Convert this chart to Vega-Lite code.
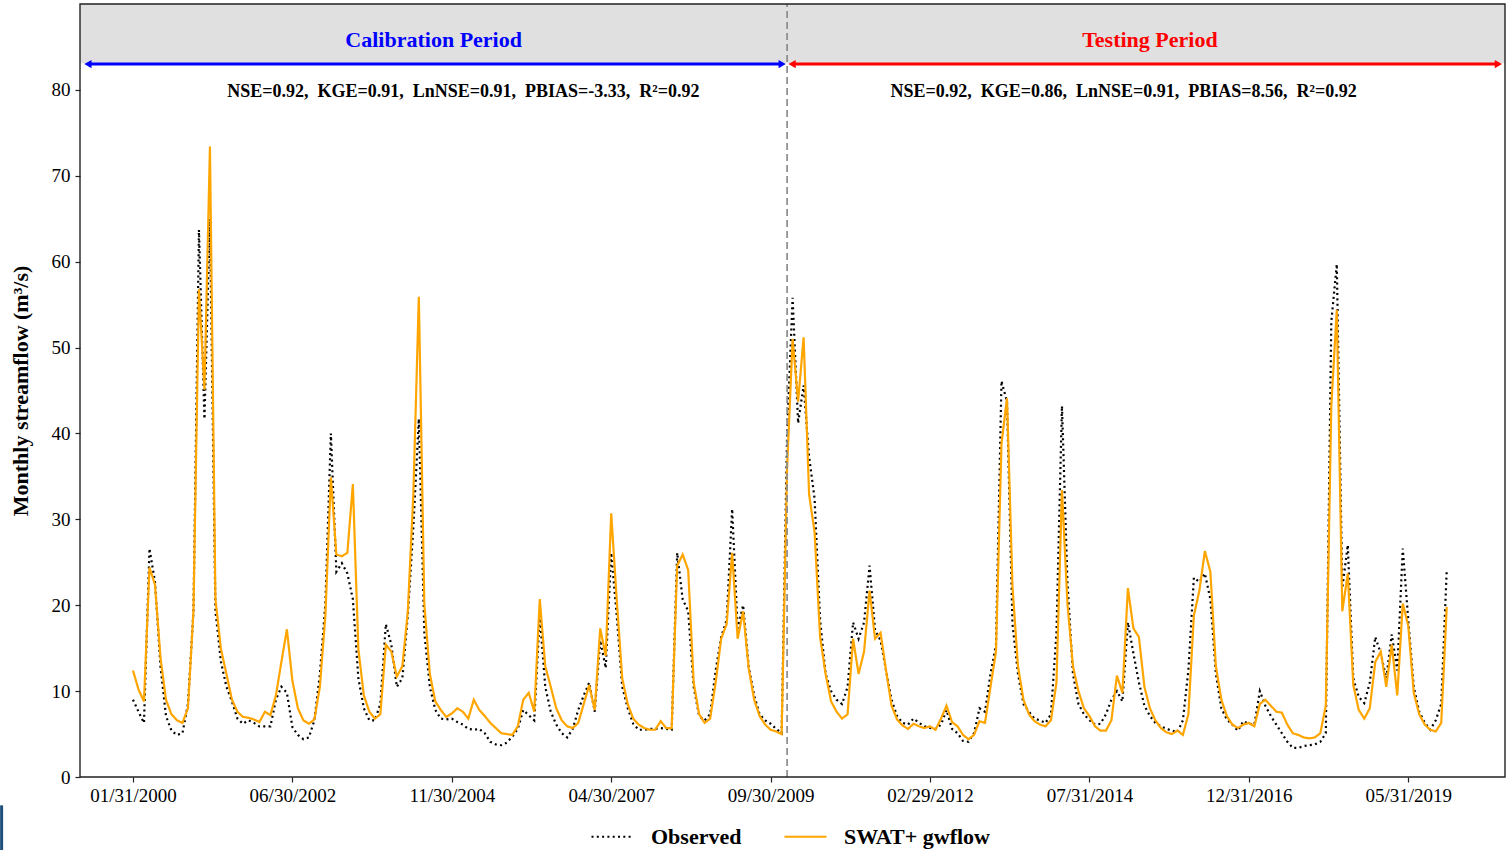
{
  "$schema": "https://vega.github.io/schema/vega-lite/v6.json",
  "width": 1425,
  "height": 773,
  "autosize": {"type": "none"},
  "padding": {"left": 80, "top": 4, "right": 2, "bottom": 73},
  "background": "white",
  "config": {"view": {"stroke": null}, "font": "Liberation Serif"},
  "layer": [
    {
      "data": {"values": [
        {"month":0,"Observed":9.0,"SWAT+ gwflow":12.4},{"month":1,"Observed":7.6,"SWAT+ gwflow":10.2},{"month":2,"Observed":6.3,"SWAT+ gwflow":8.8},{"month":3,"Observed":26.6,"SWAT+ gwflow":24.4},{"month":4,"Observed":22.7,"SWAT+ gwflow":22.4},{"month":5,"Observed":12.9,"SWAT+ gwflow":13.9},{"month":6,"Observed":7.1,"SWAT+ gwflow":9.0},{"month":7,"Observed":5.4,"SWAT+ gwflow":7.3},{"month":8,"Observed":4.9,"SWAT+ gwflow":6.6},{"month":9,"Observed":5.1,"SWAT+ gwflow":6.3},
        {"month":10,"Observed":8.5,"SWAT+ gwflow":8.0},{"month":11,"Observed":19.3,"SWAT+ gwflow":19.3},{"month":12,"Observed":63.7,"SWAT+ gwflow":56.8},{"month":13,"Observed":41.7,"SWAT+ gwflow":45.1},{"month":14,"Observed":65.0,"SWAT+ gwflow":73.4},{"month":15,"Observed":19.3,"SWAT+ gwflow":20.7},{"month":16,"Observed":13.4,"SWAT+ gwflow":14.9},{"month":17,"Observed":10.5,"SWAT+ gwflow":12.0},{"month":18,"Observed":8.8,"SWAT+ gwflow":9.0},{"month":19,"Observed":6.8,"SWAT+ gwflow":7.6},
        {"month":20,"Observed":6.2,"SWAT+ gwflow":7.0},{"month":21,"Observed":6.6,"SWAT+ gwflow":6.9},{"month":22,"Observed":6.3,"SWAT+ gwflow":6.7},{"month":23,"Observed":5.9,"SWAT+ gwflow":6.4},{"month":24,"Observed":5.9,"SWAT+ gwflow":7.6},{"month":25,"Observed":5.9,"SWAT+ gwflow":7.2},{"month":26,"Observed":9.0,"SWAT+ gwflow":9.5},{"month":27,"Observed":10.5,"SWAT+ gwflow":13.4},{"month":28,"Observed":9.8,"SWAT+ gwflow":17.2},{"month":29,"Observed":5.8,"SWAT+ gwflow":11.2},
        {"month":30,"Observed":4.9,"SWAT+ gwflow":8.0},{"month":31,"Observed":4.4,"SWAT+ gwflow":6.6},{"month":32,"Observed":4.6,"SWAT+ gwflow":6.2},{"month":33,"Observed":6.6,"SWAT+ gwflow":6.7},{"month":34,"Observed":12.0,"SWAT+ gwflow":10.5},{"month":35,"Observed":20.2,"SWAT+ gwflow":18.8},{"month":36,"Observed":40.0,"SWAT+ gwflow":34.9},{"month":37,"Observed":23.9,"SWAT+ gwflow":25.9},{"month":38,"Observed":24.9,"SWAT+ gwflow":25.7},{"month":39,"Observed":23.7,"SWAT+ gwflow":26.1},
        {"month":40,"Observed":20.7,"SWAT+ gwflow":34.1},{"month":41,"Observed":11.5,"SWAT+ gwflow":14.9},{"month":42,"Observed":8.0,"SWAT+ gwflow":9.5},{"month":43,"Observed":6.6,"SWAT+ gwflow":7.6},{"month":44,"Observed":6.6,"SWAT+ gwflow":6.8},{"month":45,"Observed":8.5,"SWAT+ gwflow":7.3},{"month":46,"Observed":17.8,"SWAT+ gwflow":15.4},{"month":47,"Observed":15.4,"SWAT+ gwflow":14.6},{"month":48,"Observed":10.5,"SWAT+ gwflow":11.7},{"month":49,"Observed":11.5,"SWAT+ gwflow":12.9},
        {"month":50,"Observed":18.8,"SWAT+ gwflow":19.3},{"month":51,"Observed":29.0,"SWAT+ gwflow":32.9},{"month":52,"Observed":41.7,"SWAT+ gwflow":55.9},{"month":53,"Observed":16.8,"SWAT+ gwflow":20.2},{"month":54,"Observed":10.5,"SWAT+ gwflow":12.0},{"month":55,"Observed":7.8,"SWAT+ gwflow":8.8},{"month":56,"Observed":6.8,"SWAT+ gwflow":7.8},{"month":57,"Observed":6.7,"SWAT+ gwflow":7.0},{"month":58,"Observed":6.8,"SWAT+ gwflow":7.4},{"month":59,"Observed":6.4,"SWAT+ gwflow":8.0},
        {"month":60,"Observed":6.1,"SWAT+ gwflow":7.6},{"month":61,"Observed":5.6,"SWAT+ gwflow":6.8},{"month":62,"Observed":5.5,"SWAT+ gwflow":9.0},{"month":63,"Observed":5.6,"SWAT+ gwflow":7.8},{"month":64,"Observed":5.1,"SWAT+ gwflow":7.1},{"month":65,"Observed":4.1,"SWAT+ gwflow":6.3},{"month":66,"Observed":3.8,"SWAT+ gwflow":5.7},{"month":67,"Observed":3.7,"SWAT+ gwflow":5.1},{"month":68,"Observed":4.0,"SWAT+ gwflow":5.0},{"month":69,"Observed":4.7,"SWAT+ gwflow":4.9},
        {"month":70,"Observed":5.6,"SWAT+ gwflow":5.9},{"month":71,"Observed":7.8,"SWAT+ gwflow":9.0},{"month":72,"Observed":7.2,"SWAT+ gwflow":9.8},{"month":73,"Observed":6.6,"SWAT+ gwflow":7.6},{"month":74,"Observed":18.8,"SWAT+ gwflow":20.7},{"month":75,"Observed":10.5,"SWAT+ gwflow":12.9},{"month":76,"Observed":7.6,"SWAT+ gwflow":10.5},{"month":77,"Observed":6.1,"SWAT+ gwflow":8.0},{"month":78,"Observed":5.1,"SWAT+ gwflow":6.6},{"month":79,"Observed":4.6,"SWAT+ gwflow":5.9},
        {"month":80,"Observed":5.6,"SWAT+ gwflow":5.7},{"month":81,"Observed":7.8,"SWAT+ gwflow":6.3},{"month":82,"Observed":9.5,"SWAT+ gwflow":8.5},{"month":83,"Observed":11.0,"SWAT+ gwflow":10.7},{"month":84,"Observed":7.6,"SWAT+ gwflow":7.8},{"month":85,"Observed":15.9,"SWAT+ gwflow":17.3},{"month":86,"Observed":12.7,"SWAT+ gwflow":14.1},{"month":87,"Observed":26.1,"SWAT+ gwflow":30.7},{"month":88,"Observed":18.8,"SWAT+ gwflow":20.7},{"month":89,"Observed":10.5,"SWAT+ gwflow":11.5},
        {"month":90,"Observed":8.0,"SWAT+ gwflow":8.5},{"month":91,"Observed":6.2,"SWAT+ gwflow":6.8},{"month":92,"Observed":5.5,"SWAT+ gwflow":6.1},{"month":93,"Observed":5.5,"SWAT+ gwflow":5.7},{"month":94,"Observed":5.6,"SWAT+ gwflow":5.5},{"month":95,"Observed":5.6,"SWAT+ gwflow":5.5},{"month":96,"Observed":5.7,"SWAT+ gwflow":6.5},{"month":97,"Observed":5.6,"SWAT+ gwflow":5.7},{"month":98,"Observed":5.5,"SWAT+ gwflow":5.7},{"month":99,"Observed":26.1,"SWAT+ gwflow":24.6},
        {"month":100,"Observed":20.7,"SWAT+ gwflow":25.9},{"month":101,"Observed":19.3,"SWAT+ gwflow":24.1},{"month":102,"Observed":10.5,"SWAT+ gwflow":11.0},{"month":103,"Observed":7.1,"SWAT+ gwflow":7.3},{"month":104,"Observed":6.6,"SWAT+ gwflow":6.3},{"month":105,"Observed":7.3,"SWAT+ gwflow":6.8},{"month":106,"Observed":12.4,"SWAT+ gwflow":11.0},{"month":107,"Observed":16.3,"SWAT+ gwflow":16.1},{"month":108,"Observed":18.3,"SWAT+ gwflow":17.8},{"month":109,"Observed":31.2,"SWAT+ gwflow":26.1},
        {"month":110,"Observed":17.3,"SWAT+ gwflow":16.1},{"month":111,"Observed":20.0,"SWAT+ gwflow":19.3},{"month":112,"Observed":12.9,"SWAT+ gwflow":12.7},{"month":113,"Observed":9.5,"SWAT+ gwflow":9.0},{"month":114,"Observed":7.3,"SWAT+ gwflow":7.1},{"month":115,"Observed":6.6,"SWAT+ gwflow":6.1},{"month":116,"Observed":6.2,"SWAT+ gwflow":5.5},{"month":117,"Observed":5.6,"SWAT+ gwflow":5.3},{"month":118,"Observed":5.1,"SWAT+ gwflow":5.0},{"month":119,"Observed":40.0,"SWAT+ gwflow":36.0},
        {"month":120,"Observed":55.8,"SWAT+ gwflow":51.0},{"month":121,"Observed":41.2,"SWAT+ gwflow":43.7},{"month":122,"Observed":45.6,"SWAT+ gwflow":51.2},{"month":123,"Observed":37.3,"SWAT+ gwflow":32.9},{"month":124,"Observed":32.4,"SWAT+ gwflow":28.5},{"month":125,"Observed":18.3,"SWAT+ gwflow":16.3},{"month":126,"Observed":12.0,"SWAT+ gwflow":12.0},{"month":127,"Observed":10.0,"SWAT+ gwflow":8.8},{"month":128,"Observed":9.0,"SWAT+ gwflow":7.6},{"month":129,"Observed":8.5,"SWAT+ gwflow":6.8},
        {"month":130,"Observed":10.5,"SWAT+ gwflow":7.3},{"month":131,"Observed":18.0,"SWAT+ gwflow":16.1},{"month":132,"Observed":16.1,"SWAT+ gwflow":12.0},{"month":133,"Observed":18.0,"SWAT+ gwflow":14.6},{"month":134,"Observed":24.6,"SWAT+ gwflow":21.7},{"month":135,"Observed":17.1,"SWAT+ gwflow":16.1},{"month":136,"Observed":15.9,"SWAT+ gwflow":16.8},{"month":137,"Observed":12.4,"SWAT+ gwflow":12.4},{"month":138,"Observed":9.0,"SWAT+ gwflow":8.3},{"month":139,"Observed":7.1,"SWAT+ gwflow":6.7},
        {"month":140,"Observed":6.3,"SWAT+ gwflow":6.0},{"month":141,"Observed":6.1,"SWAT+ gwflow":5.6},{"month":142,"Observed":6.8,"SWAT+ gwflow":6.2},{"month":143,"Observed":6.3,"SWAT+ gwflow":5.9},{"month":144,"Observed":5.9,"SWAT+ gwflow":5.7},{"month":145,"Observed":5.7,"SWAT+ gwflow":5.9},{"month":146,"Observed":5.6,"SWAT+ gwflow":5.5},{"month":147,"Observed":6.1,"SWAT+ gwflow":6.8},{"month":148,"Observed":7.8,"SWAT+ gwflow":8.3},{"month":149,"Observed":5.6,"SWAT+ gwflow":6.4},
        {"month":150,"Observed":5.1,"SWAT+ gwflow":5.9},{"month":151,"Observed":4.2,"SWAT+ gwflow":4.9},{"month":152,"Observed":4.1,"SWAT+ gwflow":4.4},{"month":153,"Observed":5.1,"SWAT+ gwflow":4.9},{"month":154,"Observed":8.0,"SWAT+ gwflow":6.5},{"month":155,"Observed":7.6,"SWAT+ gwflow":6.3},{"month":156,"Observed":12.0,"SWAT+ gwflow":10.5},{"month":157,"Observed":15.4,"SWAT+ gwflow":14.6},{"month":158,"Observed":46.1,"SWAT+ gwflow":38.8},{"month":159,"Observed":43.7,"SWAT+ gwflow":44.1},
        {"month":160,"Observed":17.8,"SWAT+ gwflow":22.2},{"month":161,"Observed":12.0,"SWAT+ gwflow":12.9},{"month":162,"Observed":8.5,"SWAT+ gwflow":9.0},{"month":163,"Observed":7.6,"SWAT+ gwflow":7.3},{"month":164,"Observed":6.8,"SWAT+ gwflow":6.5},{"month":165,"Observed":6.6,"SWAT+ gwflow":6.1},{"month":166,"Observed":6.3,"SWAT+ gwflow":5.9},{"month":167,"Observed":7.3,"SWAT+ gwflow":6.6},{"month":168,"Observed":16.8,"SWAT+ gwflow":11.0},{"month":169,"Observed":43.2,"SWAT+ gwflow":33.4},
        {"month":170,"Observed":22.7,"SWAT+ gwflow":20.2},{"month":171,"Observed":12.0,"SWAT+ gwflow":12.9},{"month":172,"Observed":8.5,"SWAT+ gwflow":10.0},{"month":173,"Observed":7.3,"SWAT+ gwflow":8.0},{"month":174,"Observed":6.6,"SWAT+ gwflow":7.1},{"month":175,"Observed":6.1,"SWAT+ gwflow":5.9},{"month":176,"Observed":6.2,"SWAT+ gwflow":5.4},{"month":177,"Observed":7.3,"SWAT+ gwflow":5.4},{"month":178,"Observed":9.0,"SWAT+ gwflow":6.6},{"month":179,"Observed":10.0,"SWAT+ gwflow":11.8},
        {"month":180,"Observed":8.8,"SWAT+ gwflow":9.8},{"month":181,"Observed":18.0,"SWAT+ gwflow":22.0},{"month":182,"Observed":14.4,"SWAT+ gwflow":17.3},{"month":183,"Observed":11.0,"SWAT+ gwflow":16.3},{"month":184,"Observed":8.3,"SWAT+ gwflow":10.5},{"month":185,"Observed":7.1,"SWAT+ gwflow":8.0},{"month":186,"Observed":6.3,"SWAT+ gwflow":6.6},{"month":187,"Observed":5.9,"SWAT+ gwflow":5.7},{"month":188,"Observed":5.6,"SWAT+ gwflow":5.2},{"month":189,"Observed":5.4,"SWAT+ gwflow":5.0},
        {"month":190,"Observed":5.2,"SWAT+ gwflow":5.4},{"month":191,"Observed":6.6,"SWAT+ gwflow":4.9},{"month":192,"Observed":12.4,"SWAT+ gwflow":7.3},{"month":193,"Observed":23.2,"SWAT+ gwflow":18.8},{"month":194,"Observed":22.7,"SWAT+ gwflow":21.7},{"month":195,"Observed":23.7,"SWAT+ gwflow":26.3},{"month":196,"Observed":20.7,"SWAT+ gwflow":23.9},{"month":197,"Observed":12.0,"SWAT+ gwflow":12.9},{"month":198,"Observed":8.0,"SWAT+ gwflow":9.0},{"month":199,"Observed":6.7,"SWAT+ gwflow":7.1},
        {"month":200,"Observed":6.1,"SWAT+ gwflow":6.1},{"month":201,"Observed":5.4,"SWAT+ gwflow":5.7},{"month":202,"Observed":6.5,"SWAT+ gwflow":6.1},{"month":203,"Observed":6.2,"SWAT+ gwflow":6.3},{"month":204,"Observed":6.1,"SWAT+ gwflow":5.9},{"month":205,"Observed":10.0,"SWAT+ gwflow":8.5},{"month":206,"Observed":8.3,"SWAT+ gwflow":9.0},{"month":207,"Observed":7.1,"SWAT+ gwflow":8.3},{"month":208,"Observed":6.1,"SWAT+ gwflow":7.6},{"month":209,"Observed":5.1,"SWAT+ gwflow":7.5},
        {"month":210,"Observed":4.1,"SWAT+ gwflow":6.1},{"month":211,"Observed":3.4,"SWAT+ gwflow":5.1},{"month":212,"Observed":3.4,"SWAT+ gwflow":4.9},{"month":213,"Observed":3.6,"SWAT+ gwflow":4.6},{"month":214,"Observed":3.7,"SWAT+ gwflow":4.5},{"month":215,"Observed":3.8,"SWAT+ gwflow":4.6},{"month":216,"Observed":4.1,"SWAT+ gwflow":5.1},{"month":217,"Observed":5.1,"SWAT+ gwflow":8.3},{"month":218,"Observed":53.0,"SWAT+ gwflow":43.2},{"month":219,"Observed":59.7,"SWAT+ gwflow":54.4},
        {"month":220,"Observed":22.0,"SWAT+ gwflow":19.3},{"month":221,"Observed":27.0,"SWAT+ gwflow":23.7},{"month":222,"Observed":11.5,"SWAT+ gwflow":10.7},{"month":223,"Observed":9.3,"SWAT+ gwflow":7.8},{"month":224,"Observed":8.6,"SWAT+ gwflow":6.8},{"month":225,"Observed":11.0,"SWAT+ gwflow":8.0},{"month":226,"Observed":16.3,"SWAT+ gwflow":13.4},{"month":227,"Observed":14.4,"SWAT+ gwflow":14.6},{"month":228,"Observed":11.5,"SWAT+ gwflow":10.5},{"month":229,"Observed":16.6,"SWAT+ gwflow":15.4},
        {"month":230,"Observed":12.4,"SWAT+ gwflow":9.5},{"month":231,"Observed":26.6,"SWAT+ gwflow":20.2},{"month":232,"Observed":18.3,"SWAT+ gwflow":17.6},{"month":233,"Observed":10.5,"SWAT+ gwflow":9.8},{"month":234,"Observed":7.6,"SWAT+ gwflow":7.3},{"month":235,"Observed":6.3,"SWAT+ gwflow":6.1},{"month":236,"Observed":5.5,"SWAT+ gwflow":5.5},{"month":237,"Observed":6.6,"SWAT+ gwflow":5.3},{"month":238,"Observed":8.5,"SWAT+ gwflow":6.3},{"month":239,"Observed":24.1,"SWAT+ gwflow":19.8}
      ]},
      "transform": [{"fold": ["Observed", "SWAT+ gwflow"], "as": ["series", "flow"]}],
      "mark": {"type": "line", "strokeWidth": 2.2},
      "encoding": {
        "x": {
          "field": "month", "type": "quantitative",
          "scale": {"domain": [-9.64, 249.6], "nice": false, "zero": false},
          "axis": {
            "values": [0, 29, 58, 87, 116, 145, 174, 203, 232],
            "labelExpr": "['01/31/2000','06/30/2002','11/30/2004','04/30/2007','09/30/2009','02/29/2012','07/31/2014','12/31/2016','05/31/2019'][round(datum.value/29)]",
            "title": null, "grid": false, "domain": false,
            "labelFont": "Liberation Serif", "labelFontSize": 19, "labelColor": "#000000",
            "tickColor": "#222222", "tickSize": 5, "tickWidth": 1.2, "labelPadding": 4
          }
        },
        "y": {
          "field": "flow", "type": "quantitative",
          "scale": {"domain": [0, 90], "nice": false},
          "axis": {
            "values": [0, 10, 20, 30, 40, 50, 60, 70, 80],
            "title": "Monthly streamflow (m³/s)", "grid": false, "domain": false,
            "labelFont": "Liberation Serif", "labelFontSize": 19, "labelColor": "#000000",
            "tickColor": "#222222", "tickSize": 5, "tickWidth": 1.2, "labelPadding": 5,
            "titleFont": "Liberation Serif", "titleFontSize": 22, "titleFontWeight": "bold", "titleColor": "#000000", "titlePadding": 19
          }
        },
        "color": {
          "field": "series", "type": "nominal",
          "scale": {"domain": ["Observed", "SWAT+ gwflow"], "range": ["#000000", "#FFA500"]},
          "legend": {
            "title": null, "orient": "none", "legendX": 510, "legendY": 810, "direction": "horizontal",
            "symbolType": "stroke", "symbolSize": 1764, "symbolStrokeWidth": 2.2,
            "labelFont": "Liberation Serif", "labelFontSize": 22, "labelFontWeight": "bold", "labelColor": "#000000",
            "labelOffset": 16, "columnPadding": 38
          }
        },
        "strokeDash": {
          "field": "series", "type": "nominal",
          "scale": {"domain": ["Observed", "SWAT+ gwflow"], "range": [[2, 3.3], [1, 0]]},
          "legend": {
            "title": null, "orient": "none", "legendX": 510, "legendY": 810, "direction": "horizontal",
            "symbolType": "stroke", "symbolSize": 1764, "symbolStrokeWidth": 2.2,
            "labelFont": "Liberation Serif", "labelFontSize": 22, "labelFontWeight": "bold", "labelColor": "#000000",
            "labelOffset": 16, "columnPadding": 38
          }
        }
      }
    },
    {
      "data": {"values": [{}]},
      "mark": {"type": "rect", "color": "#e0e0e0"},
      "encoding": {
        "x": {"datum": -9.64, "type": "quantitative"},
        "x2": {"datum": 249.6},
        "y": {"datum": 83.1, "type": "quantitative"},
        "y2": {"datum": 90}
      }
    },
    {
      "data": {"values": [{}]},
      "mark": {"type": "rule", "color": "#8c8c8c", "strokeDash": [7, 4], "strokeWidth": 1.7},
      "encoding": {
        "x": {"datum": 119, "type": "quantitative"},
        "y": {"datum": 0, "type": "quantitative"},
        "y2": {"datum": 90}
      }
    },
    {
      "data": {"values": [{}]},
      "mark": {"type": "rule", "color": "#0000FF", "strokeWidth": 3},
      "encoding": {"x": {"datum": -8.2, "type": "quantitative"}, "x2": {"datum": 118.1}, "y": {"datum": 83.0, "type": "quantitative"}}
    },
    {
      "data": {"values": [{}]},
      "mark": {"type": "point", "shape": "triangle-left", "filled": true, "color": "#0000FF", "size": 70, "opacity": 1},
      "encoding": {"x": {"datum": -8.2, "type": "quantitative"}, "y": {"datum": 83.0, "type": "quantitative"}}
    },
    {
      "data": {"values": [{}]},
      "mark": {"type": "point", "shape": "triangle-right", "filled": true, "color": "#0000FF", "size": 70, "opacity": 1},
      "encoding": {"x": {"datum": 118.1, "type": "quantitative"}, "y": {"datum": 83.0, "type": "quantitative"}}
    },
    {
      "data": {"values": [{}]},
      "mark": {"type": "rule", "color": "#FF0000", "strokeWidth": 3},
      "encoding": {"x": {"datum": 119.9, "type": "quantitative"}, "x2": {"datum": 248.4}, "y": {"datum": 83.0, "type": "quantitative"}}
    },
    {
      "data": {"values": [{}]},
      "mark": {"type": "point", "shape": "triangle-left", "filled": true, "color": "#FF0000", "size": 70, "opacity": 1},
      "encoding": {"x": {"datum": 119.9, "type": "quantitative"}, "y": {"datum": 83.0, "type": "quantitative"}}
    },
    {
      "data": {"values": [{}]},
      "mark": {"type": "point", "shape": "triangle-right", "filled": true, "color": "#FF0000", "size": 70, "opacity": 1},
      "encoding": {"x": {"datum": 248.4, "type": "quantitative"}, "y": {"datum": 83.0, "type": "quantitative"}}
    },
    {
      "data": {"values": [{}]},
      "mark": {"type": "text", "text": "Calibration Period", "color": "#0000FF", "font": "Liberation Serif", "fontSize": 22, "fontWeight": "bold", "align": "center", "baseline": "middle"},
      "encoding": {"x": {"datum": 54.7, "type": "quantitative"}, "y": {"datum": 85.8, "type": "quantitative"}}
    },
    {
      "data": {"values": [{}]},
      "mark": {"type": "text", "text": "Testing Period", "color": "#FF0000", "font": "Liberation Serif", "fontSize": 22, "fontWeight": "bold", "align": "center", "baseline": "middle"},
      "encoding": {"x": {"datum": 185.0, "type": "quantitative"}, "y": {"datum": 85.8, "type": "quantitative"}}
    },
    {
      "data": {"values": [{}]},
      "mark": {"type": "text", "text": "NSE=0.92, \u00a0KGE=0.91, \u00a0LnNSE=0.91, \u00a0PBIAS=-3.33, \u00a0R²=0.92", "color": "#000000", "font": "Liberation Serif", "fontSize": 18, "fontWeight": "bold", "align": "center", "baseline": "middle"},
      "encoding": {"x": {"datum": 60.1, "type": "quantitative"}, "y": {"datum": 79.7, "type": "quantitative"}}
    },
    {
      "data": {"values": [{}]},
      "mark": {"type": "text", "text": "NSE=0.92, \u00a0KGE=0.86, \u00a0LnNSE=0.91, \u00a0PBIAS=8.56, \u00a0R²=0.92", "color": "#000000", "font": "Liberation Serif", "fontSize": 18, "fontWeight": "bold", "align": "center", "baseline": "middle"},
      "encoding": {"x": {"datum": 180.2, "type": "quantitative"}, "y": {"datum": 79.7, "type": "quantitative"}}
    },
    {
      "data": {"values": [{}]},
      "mark": {"type": "rect", "fill": "transparent", "stroke": "#222222", "strokeWidth": 1.4},
      "encoding": {"x": {"datum": -9.64, "type": "quantitative"}, "x2": {"datum": 249.6}, "y": {"datum": 0, "type": "quantitative"}, "y2": {"datum": 90}}
    },
    {
      "data": {"values": [{}]},
      "mark": {"type": "rule", "color": "#1f4e79", "strokeWidth": 3},
      "encoding": {"x": {"datum": -23.9, "type": "quantitative"}, "y": {"datum": -3.3, "type": "quantitative"}, "y2": {"datum": -8.6}}
    }
  ]
}
